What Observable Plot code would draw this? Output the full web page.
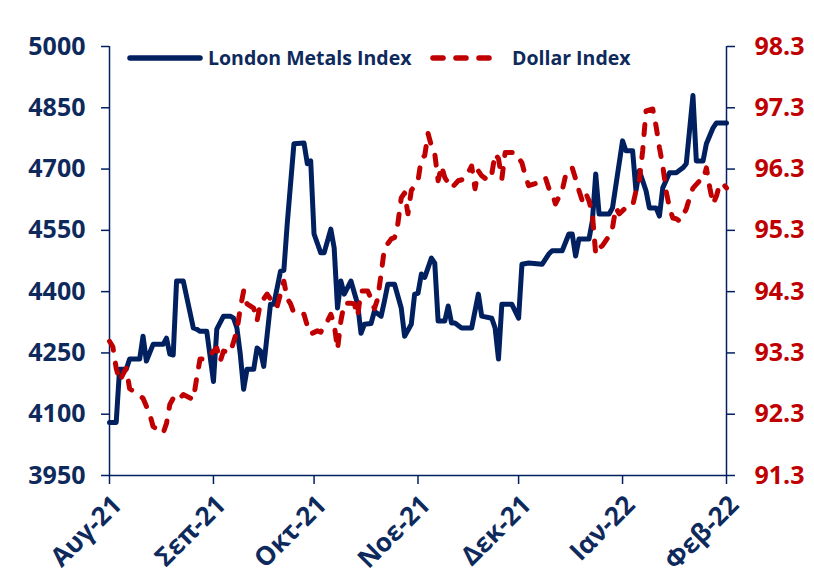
<!DOCTYPE html>
<html><head><meta charset="utf-8">
<script src="https://cdn.jsdelivr.net/npm/d3@7"></script>
<script src="https://cdn.jsdelivr.net/npm/@observablehq/plot@0.6"></script>
<style>
body{margin:0;background:#fff;}
#wrap{position:relative;width:814px;height:577px;font-family:"Open Sans",sans-serif;}
.item{position:absolute;display:flex;align-items:center;font-weight:bold;font-size:19.5px;color:#0e2a5c;white-space:nowrap;}
.item svg{display:block;}
</style></head>
<body><div id="wrap"><div id="chart"></div>
<div class="item" style="left:127px;top:44px"><svg width="76" height="26"><line x1="3" x2="73" y1="13" y2="13" stroke="#002060" stroke-width="5.5" stroke-linecap="round"/></svg><span style="margin-left:5px">London Metals Index</span></div>
<div class="item" style="left:430px;top:44px"><svg width="70" height="26"><line x1="3" x2="67" y1="13" y2="13" stroke="#C00000" stroke-width="5.5" stroke-linecap="round" stroke-dasharray="10,13"/></svg><span style="margin-left:12px">Dollar Index</span></div>
</div>
<script>
const seriesNames = ["London Metals Index", "Dollar Index"];
const monthTickDates = ["2021-08-01","2021-09-01","2021-10-01","2021-11-01","2021-12-01","2022-01-01","2022-02-01"];
const monthTickLabels = ["Αυγ-21","Σεπ-21","Οκτ-21","Νοε-21","Δεκ-21","Ιαν-22","Φεβ-22"];
const leftTicks = [3950,4100,4250,4400,4550,4700,4850,5000];
const rightTicks = [91.3,92.3,93.3,94.3,95.3,96.3,97.3,98.3];

const metalsDates = ["2021-08-01","2021-08-03","2021-08-04","2021-08-06","2021-08-07","2021-08-10","2021-08-11","2021-08-12","2021-08-14","2021-08-17","2021-08-18","2021-08-19","2021-08-20","2021-08-21","2021-08-23","2021-08-26","2021-08-27","2021-08-28","2021-08-30",
"2021-09-01","2021-09-02","2021-09-04","2021-09-06","2021-09-07","2021-09-08","2021-09-09","2021-09-10","2021-09-11","2021-09-13","2021-09-14","2021-09-15","2021-09-16","2021-09-18","2021-09-19","2021-09-21","2021-09-22","2021-09-23","2021-09-25","2021-09-28","2021-09-29","2021-09-30",
"2021-10-01","2021-10-03","2021-10-04","2021-10-06","2021-10-07","2021-10-08","2021-10-09","2021-10-10","2021-10-12","2021-10-14","2021-10-15","2021-10-16","2021-10-18","2021-10-19","2021-10-21","2021-10-22","2021-10-23","2021-10-25","2021-10-27","2021-10-28","2021-10-30","2021-10-31",
"2021-11-01","2021-11-02","2021-11-03","2021-11-05","2021-11-06","2021-11-07","2021-11-09","2021-11-10","2021-11-11","2021-11-12","2021-11-14","2021-11-17","2021-11-19","2021-11-20","2021-11-23","2021-11-24","2021-11-25","2021-11-26","2021-11-29",
"2021-12-01","2021-12-02","2021-12-04","2021-12-08","2021-12-10","2021-12-11","2021-12-14","2021-12-16","2021-12-17","2021-12-18","2021-12-19","2021-12-22","2021-12-23","2021-12-24","2021-12-25","2021-12-28","2021-12-29",
"2022-01-01","2022-01-02","2022-01-04","2022-01-05","2022-01-06","2022-01-08","2022-01-09","2022-01-11","2022-01-12","2022-01-13","2022-01-15","2022-01-17","2022-01-19","2022-01-20","2022-01-22","2022-01-23","2022-01-25","2022-01-26","2022-01-28","2022-01-29","2022-02-01"];
const metalsValues = [4080,4080,4210,4210,4235,4235,4291,4230,4271,4271,4286,4247,4245,4426,4426,4311,4308,4303,4303,
4180,4308,4340,4340,4335,4311,4247,4161,4210,4210,4262,4255,4217,4369,4369,4450,4452,4566,4762,4764,4713,4720,
4541,4495,4495,4553,4507,4360,4426,4394,4426,4369,4298,4320,4322,4352,4340,4377,4418,4418,4360,4291,4320,4394,
4396,4443,4435,4482,4470,4328,4328,4365,4323,4323,4311,4311,4394,4340,4335,4311,4235,4369,4369,
4335,4467,4470,4467,4492,4500,4500,4541,4541,4487,4529,4529,4573,4688,4590,4590,4605,
4769,4745,4745,4647,4696,4647,4605,4605,4585,4654,4691,4691,4703,4713,4880,4720,4720,4762,4801,4813,4813];

const dollarDates = ["2021-08-01","2021-08-02","2021-08-03","2021-08-04","2021-08-05","2021-08-06","2021-08-07","2021-08-09","2021-08-11","2021-08-13","2021-08-14","2021-08-17","2021-08-18","2021-08-19","2021-08-20","2021-08-21","2021-08-23","2021-08-26","2021-08-27","2021-08-28","2021-08-30",
"2021-09-01","2021-09-02","2021-09-03","2021-09-04","2021-09-06","2021-09-08","2021-09-09","2021-09-10","2021-09-11","2021-09-13","2021-09-14","2021-09-15","2021-09-17","2021-09-18","2021-09-19","2021-09-20","2021-09-22","2021-09-23","2021-09-24","2021-09-25","2021-09-28","2021-09-29","2021-09-30",
"2021-10-02","2021-10-03","2021-10-05","2021-10-06","2021-10-07","2021-10-08","2021-10-09","2021-10-10","2021-10-12","2021-10-13","2021-10-14","2021-10-15","2021-10-17","2021-10-18","2021-10-19","2021-10-20","2021-10-21","2021-10-22","2021-10-24","2021-10-25","2021-10-26","2021-10-27","2021-10-28","2021-10-29","2021-10-30",
"2021-11-01","2021-11-02","2021-11-03","2021-11-04","2021-11-05","2021-11-06","2021-11-07","2021-11-08","2021-11-09","2021-11-11","2021-11-13","2021-11-15","2021-11-17","2021-11-18","2021-11-19","2021-11-20","2021-11-22","2021-11-23","2021-11-24","2021-11-25","2021-11-26","2021-11-27","2021-11-30",
"2021-12-02","2021-12-03","2021-12-04","2021-12-07","2021-12-09","2021-12-10","2021-12-11","2021-12-12","2021-12-14","2021-12-15","2021-12-16","2021-12-17","2021-12-18","2021-12-19","2021-12-20","2021-12-21","2021-12-22","2021-12-23","2021-12-24","2021-12-25","2021-12-26","2021-12-28","2021-12-29","2021-12-30","2021-12-31",
"2022-01-02","2022-01-04","2022-01-05","2022-01-06","2022-01-07","2022-01-08","2022-01-10","2022-01-11","2022-01-12","2022-01-13","2022-01-14","2022-01-15","2022-01-16","2022-01-17","2022-01-18","2022-01-19","2022-01-20","2022-01-21","2022-01-22","2022-01-24","2022-01-25","2022-01-26","2022-01-27","2022-01-28","2022-01-29","2022-01-30","2022-01-31","2022-02-01"];
const dollarValues = [93.49,93.40,93.05,92.84,92.95,93.05,92.72,92.64,92.56,92.30,92.10,91.99,92.15,92.46,92.56,92.51,92.62,92.54,92.89,93.20,93.20,
93.33,93.38,93.16,93.33,93.30,93.66,94.03,94.31,94.10,94.03,93.82,94.11,94.26,94.18,94.06,94.06,94.47,94.19,94.10,93.95,93.93,93.74,93.61,
93.66,93.64,93.82,93.93,93.77,93.36,93.82,94.11,94.11,94.10,93.90,94.31,94.31,94.19,94.02,94.19,94.59,95.01,95.16,95.18,95.41,95.83,95.91,95.57,95.95,
96.11,96.47,96.52,96.88,96.68,96.55,96.11,96.35,96.16,95.99,96.11,96.14,96.35,95.98,96.27,96.19,96.11,96.22,96.55,96.47,96.14,96.57,96.57,
96.40,96.19,96.03,96.08,96.16,95.99,95.91,95.73,95.95,96.19,96.30,96.32,96.14,95.95,95.78,95.91,95.78,95.57,94.91,95.01,95.05,95.21,95.34,95.67,95.57,
95.67,95.70,95.94,96.11,96.60,97.25,97.28,97.00,96.65,96.35,95.94,95.67,95.50,95.49,95.45,95.54,95.65,95.83,95.99,96.11,96.11,96.32,96.00,95.73,95.86,96.06,96.06,95.99];

const navy = "#002060", navyText = "#0e2a5c", red = "#C00000";
const parse = d3.utcParse("%Y-%m-%d");
const metals = metalsDates.map((d, i) => ({date: parse(d), value: metalsValues[i], series: seriesNames[0]}));
const dollar = dollarDates.map((d, i) => ({date: parse(d), value: dollarValues[i], series: seriesNames[1]}));
const leftMin = leftTicks[0], leftMax = leftTicks[leftTicks.length - 1];
const rightMin = rightTicks[0], rightMax = rightTicks[rightTicks.length - 1];
const toLeft = v => leftMin + (v - rightMin) * (leftMax - leftMin) / (rightMax - rightMin);
const toRight = v => rightMin + (v - leftMin) * (rightMax - rightMin) / (leftMax - leftMin);
const months = monthTickDates.map(parse);
const xStart = months[0], xEnd = months[months.length - 1];
const monthLabel = d => monthTickLabels[months.findIndex(m => +m === +d)];

const chart = Plot.plot({
  width: 814, height: 577,
  marginLeft: 109, marginRight: 88, marginTop: 46, marginBottom: 102,
  x: {type: "utc", domain: [xStart, xEnd]},
  y: {domain: [leftMin, leftMax]},
  style: {fontFamily: "'Open Sans', sans-serif", fontWeight: "bold", fontSize: "25px", color: navyText, background: "white", overflow: "visible"},
  marks: [
    Plot.ruleY([leftMin], {stroke: navy, strokeWidth: 1.5}),
    Plot.ruleX([xStart], {stroke: navy, strokeWidth: 1.5}),
    Plot.ruleX([xEnd], {stroke: navy, strokeWidth: 1.5}),
    Plot.axisY({anchor: "left", ticks: leftTicks, tickFormat: d => String(d), tickSize: 8, tickPadding: 16, fill: navyText, stroke: navy, strokeWidth: 1.5, label: null}),
    Plot.axisY({anchor: "right", ticks: rightTicks.map(toLeft), tickFormat: v => toRight(v).toFixed(1), tickSize: 8, tickPadding: 20, fill: red, stroke: navy, strokeWidth: 1.5, label: null}),
    Plot.axisX({ticks: months, tickSize: 9, tickFormat: () => "", stroke: navy, strokeWidth: 1.5, label: null}),
    Plot.axisX({ticks: months, tickSize: 0, tickFormat: monthLabel, tickRotate: -45, tickPadding: 25, dx: 8, dy: 0, fontSize: 26, fill: navyText, label: null}),
    Plot.lineY(metals, {x: "date", y: "value", stroke: navy, strokeWidth: 5, strokeLinejoin: "round", strokeLinecap: "round"}),
    Plot.lineY(dollar, {x: "date", y: d => toLeft(d.value), stroke: red, strokeWidth: 5, strokeDasharray: "10,13", strokeLinejoin: "round", strokeLinecap: "round"})
  ]
});
document.getElementById("chart").appendChild(chart);
</script>
</body></html>
